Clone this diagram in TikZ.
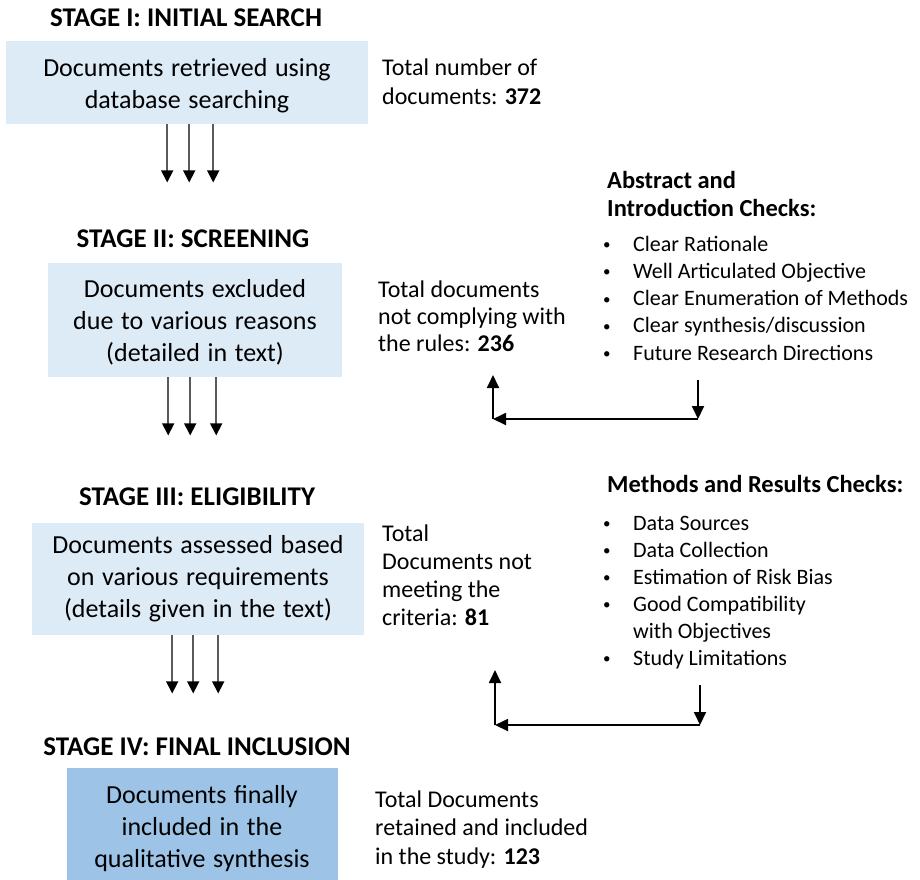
\documentclass[tikz,border=0pt]{standalone}
\usepackage{fontspec}
\setmainfont{Carlito}
\newfontfamily\boxfont{Carlito}[WordSpace=1.3]
\usetikzlibrary{arrows.meta}
\definecolor{boxlight}{RGB}{221,235,247}
\definecolor{boxdark}{RGB}{157,195,230}
\definecolor{arrowgray}{RGB}{90,90,90}
\begin{document}
\begin{tikzpicture}[x=1pt,y=-1pt,
  stagetitle/.style={font=\bfseries\fontsize{27}{31}\selectfont, anchor=base, inner sep=0pt},
  boxtext/.style={font=\boxfont\fontsize{26}{32}\selectfont, anchor=base, inner sep=0pt},
  sidetext/.style={font=\fontsize{24}{27}\selectfont, anchor=base west, inner sep=0pt},
  headtext/.style={font=\bfseries\fontsize{24.5}{28}\selectfont, anchor=base west, inner sep=0pt},
  listtext/.style={font=\fontsize{22}{27.3}\selectfont, anchor=base west, inner sep=0pt},
  stagebox/.style={fill=boxlight, draw=none, inner sep=0pt, anchor=north west},
  finalbox/.style={fill=boxdark, draw=none, inner sep=0pt, anchor=north west},
  triarrow/.style={draw=arrowgray, line width=1.7pt, -{Triangle[length=12pt,width=12pt,color=black]}},
  backarrow/.style={draw=black, line width=1.8pt, -{Triangle[length=13pt,width=12pt]}}
]
\useasboundingbox (0,0) rectangle (920,879);
\newcommand{\bul}{\makebox[30pt][l]{\raisebox{0.15ex}{\fontsize{15}{15}\selectfont\textbullet}}}
\newcommand{\nobul}{\makebox[30pt][l]{}}

% Stage I
\node[stagetitle] (s1) at (186,26) {STAGE I: INITIAL SEARCH};
\node[stagebox, minimum width=362pt, minimum height=83pt] (b1) at (6,41) {};
\node[boxtext] (b1t) at (187,76) {\begin{tabular}[t]{@{}c@{}}Documents retrieved using\\database searching\end{tabular}};
\node[sidetext, font=\fontsize{24}{29}\selectfont] (t1) at (382,75) {\begin{tabular}[t]{@{}l@{}}Total number of\\documents: \textbf{372}\end{tabular}};
\draw[triarrow] ([xshift=-20pt]b1.south) -- ++(0,58);
\draw[triarrow] ([xshift=2pt]b1.south) -- ++(0,58);
\draw[triarrow] ([xshift=26pt]b1.south) -- ++(0,58);

% Stage II
\node[headtext] (h1) at (607,188) {\begin{tabular}[t]{@{}l@{}}Abstract and\\Introduction Checks:\end{tabular}};
\node[stagetitle] (s2) at (193,247) {STAGE II: SCREENING};
\node[stagebox, minimum width=294pt, minimum height=114pt] (b2) at (48,263) {};
\node[boxtext] (b2t) at (195,297) {\begin{tabular}[t]{@{}c@{}}Documents excluded\\due to various reasons\\(detailed in text)\end{tabular}};
\node[sidetext] (t2) at (378,297) {\begin{tabular}[t]{@{}l@{}}Total documents\\not complying with\\the rules: \textbf{236}\end{tabular}};
\node[listtext] (l1) at (603,251) {\begin{tabular}[t]{@{}l@{}}\bul Clear Rationale\\\bul Well Articulated Objective\\\bul Clear Enumeration of Methods\\\bul Clear synthesis/discussion\\\bul Future Research Directions\end{tabular}};
\draw[triarrow] ([xshift=-27pt]b2.south) -- ++(0,58);
\draw[triarrow] ([xshift=-5pt]b2.south) -- ++(0,58);
\draw[triarrow] ([xshift=21pt]b2.south) -- ++(0,58);
\coordinate (f1a) at (698,380);
\coordinate (f1b) at (698,419);
\coordinate (f1c) at (493,419);
\coordinate (f1d) at (493,375);
\draw[backarrow] (f1a) -- (f1b);
\draw[backarrow] (f1b) -- (f1c);
\draw[backarrow] (f1c) -- (f1d);

% Stage III
\node[headtext] (h2) at (607,492) {Methods and Results Checks:};
\node[stagetitle] (s3) at (197,505) {STAGE III: ELIGIBILITY};
\node[stagebox, minimum width=332pt, minimum height=112pt] (b3) at (32,523) {};
\node[boxtext] (b3t) at (198,553) {\begin{tabular}[t]{@{}c@{}}Documents assessed based\\on various requirements\\(details given in the text)\end{tabular}};
\node[sidetext, font=\fontsize{24}{28}\selectfont] (t3) at (382,541) {\begin{tabular}[t]{@{}l@{}}Total\\Documents not\\meeting the\\criteria: \textbf{81}\end{tabular}};
\node[listtext, font=\fontsize{22}{27}\selectfont] (l2) at (603,530) {\begin{tabular}[t]{@{}l@{}}\bul Data Sources\\\bul Data Collection\\\bul Estimation of Risk Bias\\\bul Good Compatibility\\\nobul with Objectives\\\bul Study Limitations\end{tabular}};
\draw[triarrow] ([xshift=-26pt]b3.south) -- ++(0,58);
\draw[triarrow] ([xshift=-5pt]b3.south) -- ++(0,58);
\draw[triarrow] ([xshift=20pt]b3.south) -- ++(0,58);
\coordinate (f2a) at (700,685);
\coordinate (f2b) at (700,725);
\coordinate (f2c) at (495,725);
\coordinate (f2d) at (495,670);
\draw[backarrow] (f2a) -- (f2b);
\draw[backarrow] (f2b) -- (f2c);
\draw[backarrow] (f2c) -- (f2d);

% Stage IV
\node[stagetitle] (s4) at (197,755) {STAGE IV: FINAL INCLUSION};
\node[finalbox, minimum width=271pt, minimum height=113pt] (b4) at (67,768) {};
\node[boxtext] (b4t) at (202,803) {\begin{tabular}[t]{@{}c@{}}Documents finally\\included in the\\qualitative synthesis\end{tabular}};
\node[sidetext, font=\fontsize{24}{28.5}\selectfont] (t4) at (375,807) {\begin{tabular}[t]{@{}l@{}}Total Documents\\retained and included\\in the study: \textbf{123}\end{tabular}};
\end{tikzpicture}
\end{document}
